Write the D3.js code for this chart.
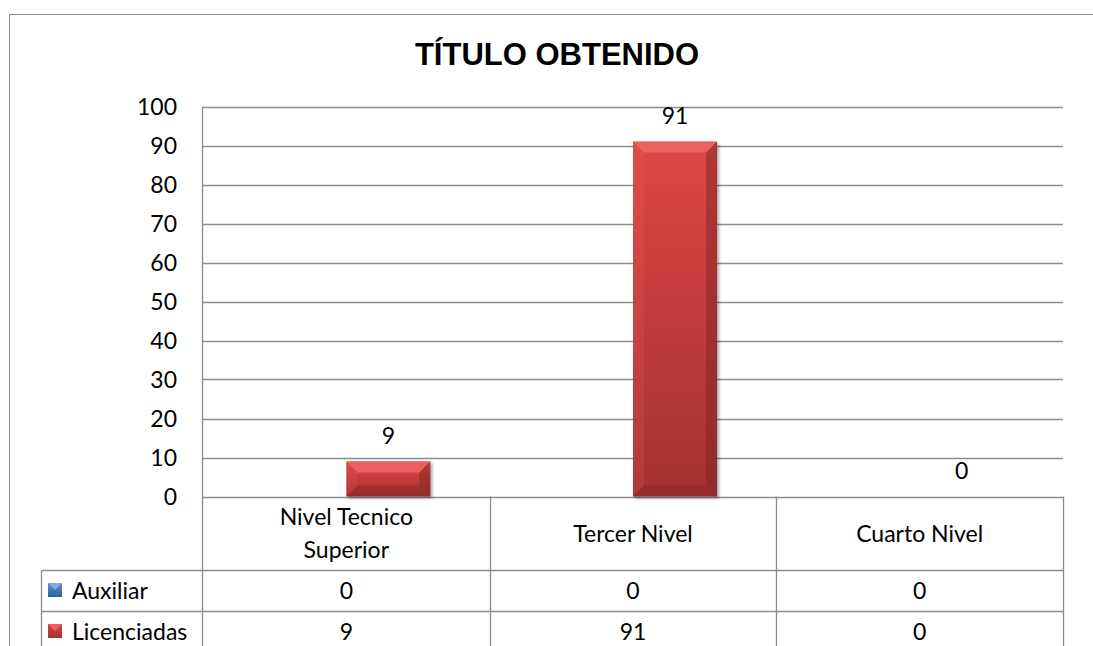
<!DOCTYPE html>
<html>
<head>
<meta charset="utf-8">
<script src="https://cdn.jsdelivr.net/npm/d3@7"></script>
<style>
  body { margin: 0; background: #fff; }
  text { font-family: Lato, "Open Sans", sans-serif; fill: #000; }
</style>
</head>
<body>
<div id="chart"></div>
<script>
// data
let categories = ["Nivel Tecnico Superior", "Tercer Nivel", "Cuarto Nivel"];
let seriesNames = ["Auxiliar", "Licenciadas"];
let auxiliar = [0, 0, 0];
let licenciadas = [9, 91, 0];
let yTicks = [0, 10, 20, 30, 40, 50, 60, 70, 80, 90, 100];
let chartTitle = "TÍTULO OBTENIDO";

let seriesValues = [auxiliar, licenciadas];
let colors = [
  {top: "#5a8fd0", bottom: "#2f5f9a", light: "#8db4e4", dark: "#244a78"},
  {top: "#de4645", bottom: "#a33230", light: "#f26a69", dark: "#7c2423"}
];

let W = 1093, H = 646;
let plot = {left: 203, right: 1063, top: 106.5, bottom: 496.5};
let tableRows = [570.5, 611.5, 652.5];
let tableLeft = 41.5;

let svg = d3.select("#chart")
  .append("svg")
  .attr("width", W)
  .attr("height", H);

let defs = svg.append("defs");
colors.forEach(function(c, i) {
  let g = defs.append("linearGradient")
    .attr("id", "grad" + i)
    .attr("x1", 0).attr("y1", 0).attr("x2", 0).attr("y2", 1);
  g.append("stop").attr("offset", "0%").attr("stop-color", c.top);
  g.append("stop").attr("offset", "100%").attr("stop-color", c.bottom);
});
let shadow = defs.append("filter").attr("id", "shadow")
  .attr("x", "-20%").attr("y", "-20%").attr("width", "140%").attr("height", "140%");
shadow.append("feDropShadow")
  .attr("dx", 2).attr("dy", 2).attr("stdDeviation", 1.5)
  .attr("flood-color", "#000").attr("flood-opacity", 0.35);

// outer frame (right/bottom run off the picture)
svg.append("rect")
  .attr("x", 9.5).attr("y", 14.5)
  .attr("width", W + 20).attr("height", H + 20)
  .attr("fill", "none")
  .attr("stroke", "#8c8c8c");

// title
svg.append("text")
  .attr("x", 557).attr("y", 65)
  .attr("text-anchor", "middle")
  .style("font-family", "'Liberation Sans', Arial, sans-serif")
  .style("font-weight", "bold")
  .style("font-size", "31px")
  .text(chartTitle);

// scales
let y = d3.scaleLinear()
  .domain([0, 100])
  .range([plot.bottom, plot.top]);

let x0 = d3.scaleBand()
  .domain(categories)
  .range([plot.left, plot.right])
  .paddingInner(0.414)
  .paddingOuter(0.207);

let x1 = d3.scaleBand()
  .domain(seriesNames)
  .range([0, x0.bandwidth()]);

// gridlines
svg.append("g")
  .selectAll("line")
  .data(yTicks)
  .enter()
  .append("line")
  .attr("x1", plot.left)
  .attr("x2", plot.right)
  .attr("y1", function(d) { return Math.round(y(d)) + 0.5; })
  .attr("y2", function(d) { return Math.round(y(d)) + 0.5; })
  .attr("stroke", "#8c8c8c")
  .attr("stroke-width", 1.3);

// y axis labels
svg.append("g")
  .selectAll("text")
  .data(yTicks)
  .enter()
  .append("text")
  .attr("x", 177)
  .attr("y", function(d) { return y(d); })
  .attr("dy", "0.36em")
  .attr("text-anchor", "end")
  .style("font-size", "23px")
  .text(function(d) { return d; });

// bars
let bars = [];
seriesValues.forEach(function(vals, si) {
  vals.forEach(function(v, ci) {
    bars.push({s: si, c: categories[ci], v: v});
  });
});

let barG = svg.append("g")
  .selectAll("g")
  .data(bars.filter(function(d) { return d.v > 0; }))
  .enter()
  .append("g");

barG.append("rect")
  .attr("x", function(d) { return x0(d.c) + x1(seriesNames[d.s]); })
  .attr("y", function(d) { return y(d.v); })
  .attr("width", x1.bandwidth())
  .attr("height", function(d) { return y(0) - y(d.v); })
  .attr("fill", function(d) { return "url(#grad" + d.s + ")"; })
  .attr("filter", "url(#shadow)");

// bevel edges
barG.each(function(d) {
  let bx = x0(d.c) + x1(seriesNames[d.s]);
  let bw = x1.bandwidth();
  let by = y(d.v);
  let bh = y(0) - y(d.v);
  let b = Math.min(11, bh / 3);
  let c = colors[d.s];
  let g = d3.select(this);
  let poly = function(pts, fill, op) {
    g.append("polygon")
      .attr("points", pts.map(function(p) { return p.join(","); }).join(" "))
      .attr("fill", fill)
      .attr("opacity", op);
  };
  poly([[bx, by], [bx + bw, by], [bx + bw - b, by + b], [bx + b, by + b]], c.light, 0.75);
  poly([[bx + bw, by], [bx + bw, by + bh], [bx + bw - b, by + bh - b], [bx + bw - b, by + b]], c.dark, 0.45);
  poly([[bx, by + bh], [bx + bw, by + bh], [bx + bw - b, by + bh - b], [bx + b, by + bh - b]], c.dark, 0.35);
  poly([[bx, by], [bx, by + bh], [bx + b, by + bh - b], [bx + b, by + b]], c.light, 0.15);
});

// data labels (Licenciadas)
svg.append("g")
  .selectAll("text")
  .data(bars.filter(function(d) { return d.s === 1; }))
  .enter()
  .append("text")
  .attr("x", function(d) { return x0(d.c) + x1(seriesNames[d.s]) + x1.bandwidth() / 2; })
  .attr("y", function(d) { return y(d.v) - 26; })
  .attr("dy", "0.36em")
  .attr("text-anchor", "middle")
  .style("font-size", "23px")
  .text(function(d) { return d.v; });

// data table grid
let step = x0.step();
let colEdges = [plot.left].concat(categories.map(function(c) { return x0(c) - x0.paddingOuter() * step + step; }));

let grid = svg.append("g")
  .attr("stroke", "#8c8c8c")
  .attr("stroke-width", 1.3);

// left axis line running through the table
grid.append("line")
  .attr("x1", plot.left - 0.5).attr("x2", plot.left - 0.5)
  .attr("y1", plot.top).attr("y2", H);

colEdges.slice(1).forEach(function(cx) {
  grid.append("line")
    .attr("x1", Math.round(cx) + 0.5).attr("x2", Math.round(cx) + 0.5)
    .attr("y1", plot.bottom).attr("y2", H);
});

tableRows.forEach(function(ry) {
  grid.append("line")
    .attr("x1", tableLeft).attr("x2", plot.right)
    .attr("y1", ry).attr("y2", ry);
});

grid.append("line")
  .attr("x1", tableLeft).attr("x2", tableLeft)
  .attr("y1", tableRows[0]).attr("y2", H);

// category headers
categories.forEach(function(c) {
  let cx = x0(c) + x0.bandwidth() / 2;
  let t = svg.append("text")
    .attr("text-anchor", "middle")
    .style("font-size", "23px");
  let words = c.split(" ");
  let lines = [];
  let line = [];
  words.forEach(function(w) {
    line.push(w);
    t.text(line.join(" "));
    if (t.node().getComputedTextLength() > 200 && line.length > 1) {
      line.pop();
      lines.push(line.join(" "));
      line = [w];
    }
  });
  lines.push(line.join(" "));
  t.text(null);
  let mid = (plot.bottom + tableRows[0]) / 2;
  let lh = 33;
  lines.forEach(function(l, i) {
    t.append("tspan")
      .attr("x", cx)
      .attr("y", mid + (i - (lines.length - 1) / 2) * lh)
      .attr("dy", "0.36em")
      .text(l);
  });
});

// table rows with legend keys
seriesNames.forEach(function(name, si) {
  let ry = (tableRows[si] + tableRows[si + 1]) / 2;
  let c = colors[si];
  let k = 14;
  let kx = 48, ky = ry - k / 2 - 1;
  svg.append("rect")
    .attr("x", kx).attr("y", ky)
    .attr("width", k).attr("height", k)
    .attr("fill", "url(#grad" + si + ")");
  svg.append("polygon")
    .attr("points", [[kx, ky], [kx + k, ky], [kx + k / 2, ky + k / 2]].map(function(p) { return p.join(","); }).join(" "))
    .attr("fill", c.light)
    .attr("opacity", 0.8);
  svg.append("text")
    .attr("x", 72).attr("y", ry)
    .attr("dy", "0.36em")
    .style("font-size", "23px")
    .text(name);
  seriesValues[si].forEach(function(v, ci) {
    svg.append("text")
      .attr("x", x0(categories[ci]) + x0.bandwidth() / 2)
      .attr("y", ry)
      .attr("dy", "0.36em")
      .attr("text-anchor", "middle")
      .style("font-size", "23px")
      .text(v);
  });
});
</script>
</body>
</html>
